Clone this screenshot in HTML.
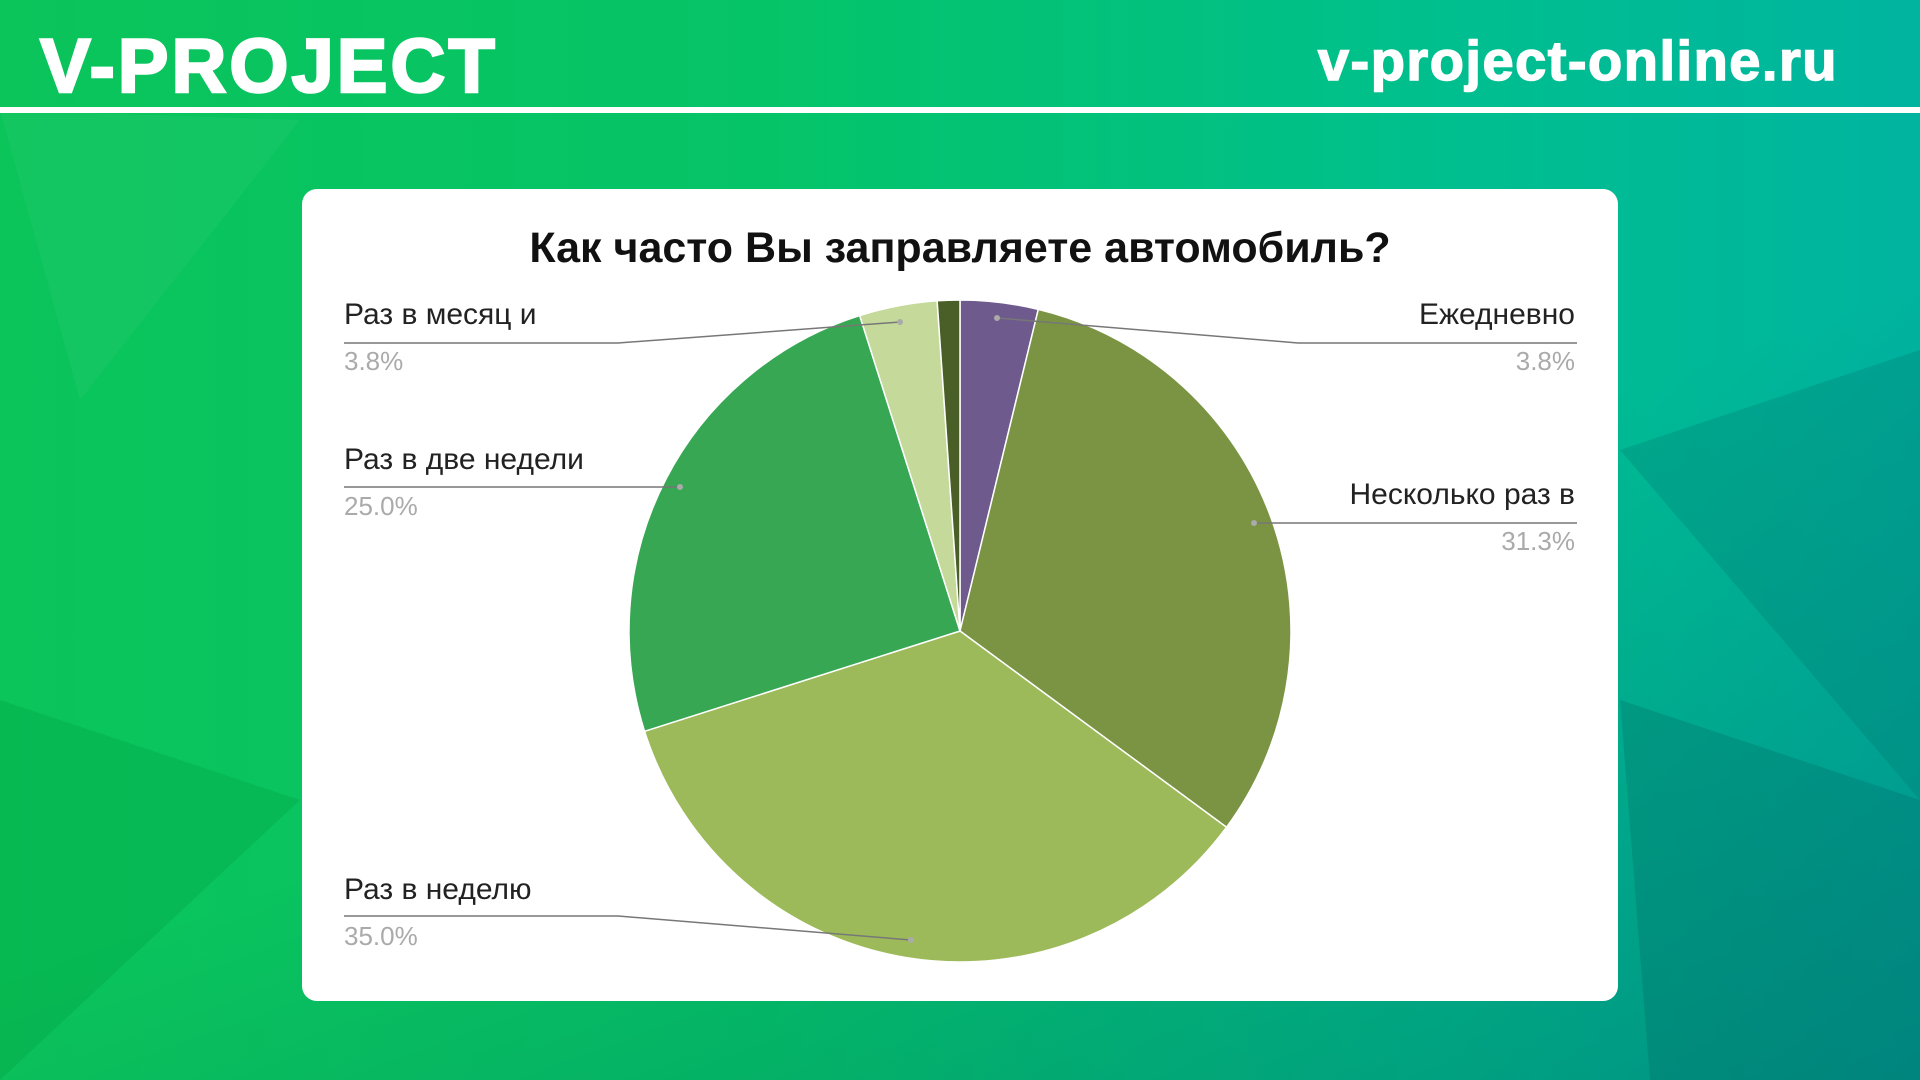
<!DOCTYPE html>
<html><head><meta charset="utf-8"><style>
html,body{margin:0;padding:0;width:1920px;height:1080px;overflow:hidden}
body{background:
linear-gradient(160deg,rgba(0,0,0,0) 55%,rgba(0,80,90,0.35) 100%),
linear-gradient(90deg,#0bc45a 0%,#05c468 40%,#00bf8e 75%,#00b4a0 100%);font-family:"Liberation Sans",sans-serif}
</style></head><body>
<svg width="1920" height="1080" xmlns="http://www.w3.org/2000/svg" style="position:absolute;left:0;top:0">
<polygon points="0,110 300,120 80,400" fill="#ffffff" opacity="0.04"/>
<polygon points="1620,450 1920,350 1920,800" fill="#006e6a" opacity="0.25"/>
<polygon points="1620,700 1920,800 1920,1080 1650,1080" fill="#005f60" opacity="0.25"/>
<polygon points="0,700 300,800 0,1080" fill="#00a040" opacity="0.3"/>
<text x="40" y="92" font-family="Liberation Sans,sans-serif" font-weight="bold" font-size="76" fill="#fff" stroke="#fff" stroke-width="2.5" style="letter-spacing:3px">V-PROJECT</text>
<text x="1838" y="80" text-anchor="end" font-family="Liberation Sans,sans-serif" font-weight="bold" font-size="56" fill="#fff" stroke="#fff" stroke-width="1.5" style="letter-spacing:1.5px">v-project-online.ru</text>
<rect x="0" y="107" width="1920" height="6" fill="#fff"/>
<rect x="302" y="189" width="1316" height="812" rx="15" fill="#fff"/>
<text x="960" y="262" text-anchor="middle" font-family="Liberation Sans,sans-serif" font-weight="bold" font-size="43" fill="#111">Как часто Вы заправляете автомобиль?</text>
<g id="pie"></g>
<g fill="none" stroke="#777" stroke-width="1.5">
<polyline points="997,318 1298,343 1577,343"/>
<polyline points="900,322 618,343 344,343"/>
<polyline points="680,487 344,487"/>
<polyline points="1254,523 1577,523"/>
<polyline points="911,940 618,916 344,916"/>
</g>
<g fill="#aaa"><circle cx="997" cy="318" r="3"/><circle cx="900" cy="322" r="3"/><circle cx="680" cy="487" r="3"/><circle cx="1254" cy="523" r="3"/><circle cx="911" cy="940" r="3"/></g>
<g font-family="Liberation Sans,sans-serif" font-size="30" fill="#222">
<text x="1575" y="324" text-anchor="end">Ежедневно</text>
<text x="344" y="324">Раз в месяц и</text>
<text x="344" y="469">Раз в две недели</text>
<text x="1575" y="504" text-anchor="end">Несколько раз в</text>
<text x="344" y="899">Раз в неделю</text>
</g>
<g font-family="Liberation Sans,sans-serif" font-size="26" fill="#aaa">
<text x="1575" y="370" text-anchor="end">3.8%</text>
<text x="344" y="370">3.8%</text>
<text x="344" y="515">25.0%</text>
<text x="1575" y="550" text-anchor="end">31.3%</text>
<text x="344" y="945">35.0%</text>
</g>
</svg>
<script>
var cx=960,cy=631,r=331;
var d=[[3.8,"#6f5a8e"],[31.3,"#7a9443"],[35.0,"#9dba5a"],[25.0,"#37a753"],[3.8,"#c5d99a"],[1.1,"#4a5e27"]];
var a=0,h="";
d.forEach(function(s){var a1=a,a2=a+s[0]/100*2*Math.PI;a=a2;
var x1=cx+r*Math.sin(a1),y1=cy-r*Math.cos(a1),x2=cx+r*Math.sin(a2),y2=cy-r*Math.cos(a2);
var l=(a2-a1)>Math.PI?1:0;
h+='<path d="M'+cx+','+cy+' L'+x1+','+y1+' A'+r+','+r+' 0 '+l+' 1 '+x2+','+y2+' Z" fill="'+s[1]+'" stroke="#fff" stroke-width="1.5"/>';});
document.getElementById("pie").innerHTML=h;
</script>
</body></html>
